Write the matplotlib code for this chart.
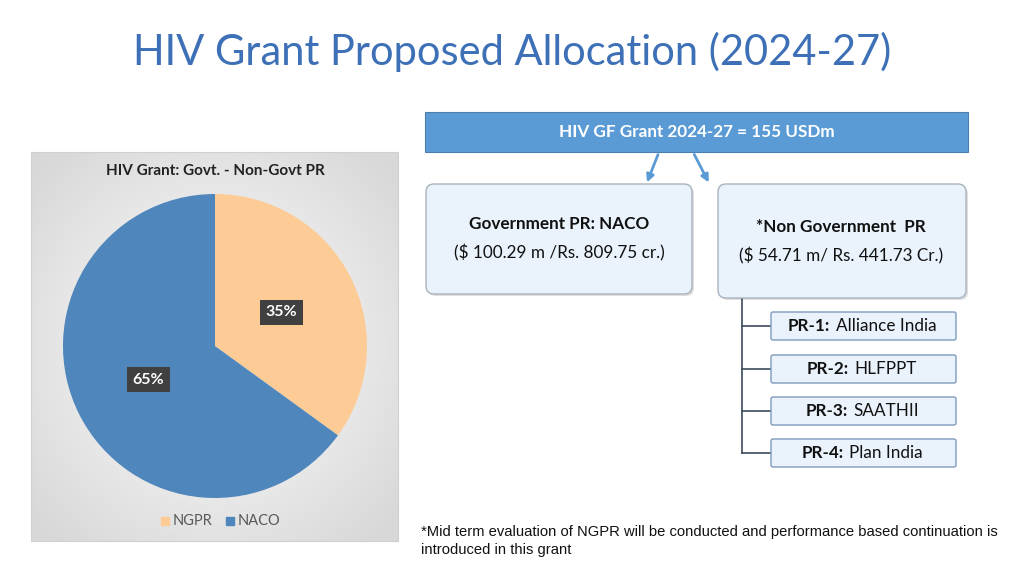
import numpy as np
import matplotlib
matplotlib.use("Agg")
import matplotlib.pyplot as plt
from matplotlib.patches import FancyBboxPatch, Rectangle, FancyArrowPatch
from matplotlib.offsetbox import TextArea, HPacker, AnnotationBbox

# data
shares = [35, 65]
share_labels = ["NGPR", "NACO"]
share_colors = ["#fdcb95", "#4f86bb"]
total_text = "HIV GF Grant 2024-27 = 155 USDm"
gov_title = "Government PR: NACO"
gov_amount = "($ 100.29 m /Rs. 809.75 cr.)"
ngo_title = "*Non Government  PR"
ngo_amount = "($ 54.71 m/ Rs. 441.73 Cr.)"
pr_codes = ["PR-1:", "PR-2:", "PR-3:", "PR-4:"]
pr_names = ["Alliance India", "HLFPPT", "SAATHII", "Plan India"]
footnote = ("*Mid term evaluation of NGPR will be conducted and performance based continuation is\n"
            "introduced in this grant")

FONT = "Lato"
W, H = 1024, 576
fig = plt.figure(figsize=(W / 100, H / 100), dpi=100)
fig.patch.set_facecolor("white")

# full-figure axes in pixel coordinates
ax = fig.add_axes([0, 0, 1, 1], zorder=0)
ax.set_xlim(0, W)
ax.set_ylim(H, 0)
ax.axis("off")

ax.text(512, 52, "HIV Grant Proposed Allocation (2024-27)", ha="center", va="center",
        fontsize=30, color="#3d70b6", family=FONT)

# pie panel background with soft radial gradient
px0, px1, py0, py1 = 31, 398, 152, 541
gx, gy = np.meshgrid(np.linspace(-1, 1, 200), np.linspace(-1, 1, 200))
rr = np.clip(np.sqrt(gx ** 2 + gy ** 2) / 1.3, 0, 1)
shade = 1.0 - 0.15 * rr
img = np.dstack([shade, shade, shade])
ax.imshow(img, extent=(px0, px1, py1, py0), aspect="auto", zorder=1)
ax.add_patch(Rectangle((px0, py0), px1 - px0, py1 - py0, fill=False,
                       edgecolor="#d0d0d0", lw=0.8, zorder=2))
ax.text(215, 171, "HIV Grant: Govt. - Non-Govt PR", ha="center", va="center",
        fontsize=11, fontweight="bold", color="#222222", family=FONT, zorder=3)

# legend
for i, (lab, col) in enumerate(zip(share_labels, share_colors)):
    lx = 161 + i * 65
    ax.add_patch(Rectangle((lx, 517), 8, 8, color=col, zorder=3))
    ax.text(lx + 12, 521, lab, ha="left", va="center", fontsize=10.5,
            color="#595959", family=FONT, zorder=3)

# pie
cx, cy, r = 215, 346, 152
pax = fig.add_axes([(cx - r) / W, (H - cy - r) / H, 2 * r / W, 2 * r / H], zorder=2)
wedges, texts, autotexts = pax.pie(
    shares, colors=share_colors, startangle=90, counterclock=False,
    autopct="%d%%", pctdistance=0.49, radius=1,
    wedgeprops=dict(linewidth=0),
    textprops=dict(color="white", fontsize=11.5, fontweight="bold", family=FONT))
for t in autotexts:
    t.set_bbox(dict(boxstyle="square,pad=0.35", facecolor="#404040", edgecolor="none"))
pax.set_xlim(-1, 1)
pax.set_ylim(-1, 1)
pax.axis("off")

# top bar
ax.add_patch(Rectangle((425, 112), 543, 40, facecolor="#5b9bd5",
                       edgecolor="#4a7fb0", lw=0.8, zorder=2))
ax.text(697, 132, total_text, ha="center", va="center", fontsize=12.3,
        fontweight="bold", color="white", family=FONT, zorder=3)

# arrows
for (x0, y0), (x1, y1) in [((659, 152), (646, 185)), ((693, 152), (710, 185))]:
    ax.add_patch(FancyArrowPatch((x0, y0), (x1, y1), arrowstyle="-|>",
                                 mutation_scale=11, color="#5b9bd5", lw=2.0, zorder=3))


def rbox(x, y, w, h, face, edge, rad=6, shadow=True):
    if shadow:
        ax.add_patch(FancyBboxPatch((x + 2, y + 2), w, h,
                                    boxstyle=f"round,pad=0,rounding_size={rad}",
                                    facecolor="#c8c8c8", edgecolor="none", alpha=0.6, zorder=2))
    ax.add_patch(FancyBboxPatch((x, y), w, h, boxstyle=f"round,pad=0,rounding_size={rad}",
                                facecolor=face, edgecolor=edge, lw=1.0, zorder=3))


rbox(426, 184, 266, 110, "#eaf3fc", "#a9b3bd", rad=8)
ax.text(559, 224, gov_title, ha="center", va="center", fontsize=12.3,
        fontweight="bold", color="#111111", family=FONT, zorder=4)
ax.text(559, 253, gov_amount, ha="center", va="center", fontsize=12.3,
        color="#111111", family=FONT, zorder=4)

rbox(718, 184, 248, 114, "#eaf3fc", "#a9b3bd", rad=8)
ax.text(841, 227, ngo_title, ha="center", va="center", fontsize=12.3,
        fontweight="bold", color="#111111", family=FONT, zorder=4)
ax.text(841, 256, ngo_amount, ha="center", va="center", fontsize=12.3,
        color="#111111", family=FONT, zorder=4)

# tree of PR boxes
rows_y = [326, 369, 411, 453]
ax.plot([742, 742], [298, rows_y[-1]], color="#3b4a5a", lw=1.2, zorder=2)
for yy, code, name in zip(rows_y, pr_codes, pr_names):
    ax.plot([742, 771], [yy, yy], color="#3b4a5a", lw=1.2, zorder=2)
    rbox(771, yy - 14, 185, 28, "#eaf2fb", "#7f9bbd", rad=2, shadow=False)
    pack = HPacker(children=[
        TextArea(code, textprops=dict(fontsize=12.3, fontweight="bold",
                                      color="#111111", family=FONT)),
        TextArea(name, textprops=dict(fontsize=12.3, color="#111111", family=FONT))],
        sep=4, align="baseline", pad=0)
    ab = AnnotationBbox(pack, (862, yy), box_alignment=(0.5, 0.5), frameon=False,
                        xycoords="data", zorder=5)
    ax.add_artist(ab)

ax.text(421, 541, footnote, ha="left", va="center", fontsize=10.6, color="#111111",
        family="Liberation Sans", linespacing=1.3)

fig.savefig("out.png", dpi=100)
